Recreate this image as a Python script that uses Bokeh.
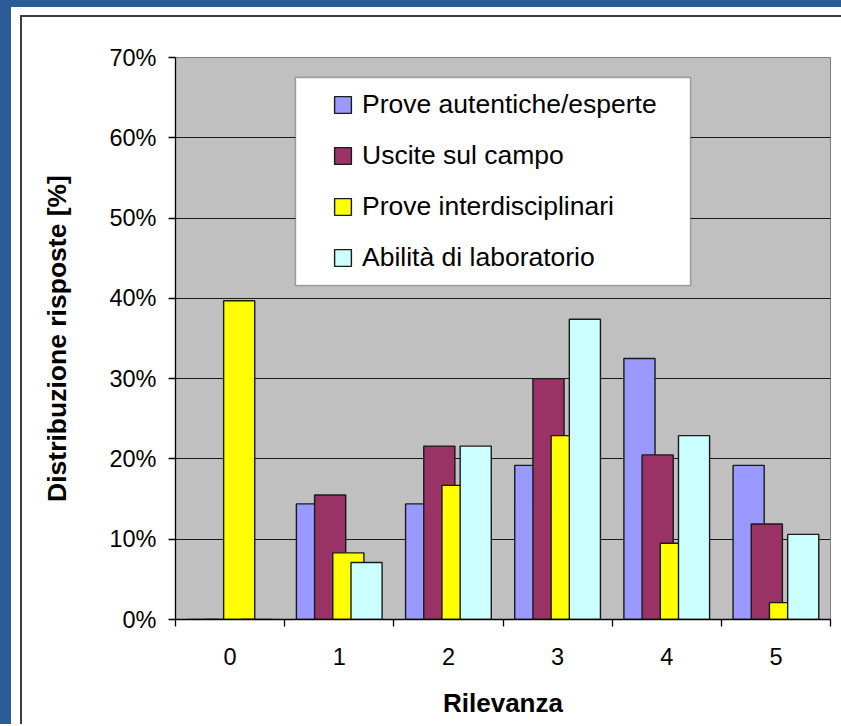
from bokeh.plotting import figure
from bokeh.models import (Range1d, FixedTicker, Legend, LegendItem, BoxAnnotation,
                          ColumnDataSource)
from bokeh.transform import dodge
from bokeh.layouts import column
from bokeh.embed import file_html
from bokeh.resources import INLINE

# ---------------- data ----------------
categories = ["0", "1", "2", "3", "4", "5"]
series_names = ["Prove autentiche/esperte", "Uscite sul campo",
                "Prove interdisciplinari", "Abilità di laboratorio"]
prove_autentiche = [0.0, 14.4, 14.4, 19.2, 32.5, 19.2]
uscite_campo = [0.0, 15.5, 21.6, 30.0, 20.5, 11.9]
prove_interdisciplinari = [39.7, 8.3, 16.7, 22.9, 9.5, 2.1]
abilita_laboratorio = [0.0, 7.1, 21.6, 37.4, 22.9, 10.6]
y_ticks = [0, 10, 20, 30, 40, 50, 60, 70]
y_tick_labels = ["0%", "10%", "20%", "30%", "40%", "50%", "60%", "70%"]
x_title = "Rilevanza"
y_title = "Distribuzione risposte [%]"

colors = ["#9999FF", "#993366", "#FFFF00", "#CCFFFF"]
offsets = [-0.25, -1 / 12, 1 / 12, 0.25]
FONT = "Liberation Sans"

xs = list(range(len(categories)))
src = ColumnDataSource(dict(x=xs, s0=prove_autentiche, s1=uscite_campo,
                            s2=prove_interdisciplinari, s3=abilita_laboratorio))

W, H = 819, 707
p = figure(width=W, height=H,
           x_range=Range1d(-0.5, len(categories) - 0.5),
           y_range=Range1d(y_ticks[0], y_ticks[-1]),
           output_backend="svg", toolbar_location=None,
           min_border_left=153, min_border_right=11,
           min_border_top=40, min_border_bottom=105)

p.background_fill_color = "#C0C0C0"
p.border_fill_color = "white"
p.outline_line_color = "#808080"
p.outline_line_width = 1

renderers = []
for i, key in enumerate(["s0", "s1", "s2", "s3"]):
    r = p.vbar(x=dodge("x", offsets[i], range=p.x_range), top=key, bottom=0,
               width=0.285, source=src, fill_color=colors[i],
               line_color="#1a1a1a", line_width=1.4)
    renderers.append(r)

# grid
p.xgrid.visible = False
p.ygrid.ticker = FixedTicker(ticks=y_ticks)
p.ygrid.grid_line_color = "#1a1a1a"
p.ygrid.grid_line_width = 1.2

# y axis
ya = p.yaxis[0]
ya.ticker = FixedTicker(ticks=y_ticks)
ya.major_label_overrides = {t: l for t, l in zip(y_ticks, y_tick_labels)}
ya.axis_line_color = "black"
ya.axis_line_width = 1.3
ya.major_tick_line_color = "black"
ya.major_tick_line_width = 1.3
ya.major_tick_out = 7
ya.major_tick_in = 0
ya.minor_tick_line_color = None
ya.major_label_standoff = 12
ya.major_label_text_font = FONT
ya.major_label_text_font_size = "23.5px"
ya.major_label_text_color = "black"
ya.axis_label = y_title
ya.axis_label_text_font = FONT
ya.axis_label_text_font_style = "bold"
ya.axis_label_text_font_size = "26.5px"
ya.axis_label_text_color = "black"
ya.axis_label_standoff = 34

# x axis
xa = p.xaxis[0]
xa.ticker = FixedTicker(ticks=xs, minor_ticks=[x - 0.5 for x in xs] + [xs[-1] + 0.5])
xa.major_label_overrides = {x: c for x, c in zip(xs, categories)}
xa.axis_line_color = "black"
xa.axis_line_width = 1.3
xa.major_tick_line_color = None
xa.major_tick_out = 0
xa.major_tick_in = 0
xa.minor_tick_line_color = "black"
xa.minor_tick_line_width = 1.3
xa.minor_tick_out = 7
xa.minor_tick_in = 0
xa.major_label_standoff = 21
xa.major_label_text_font = FONT
xa.major_label_text_font_size = "23.5px"
xa.major_label_text_color = "black"
xa.axis_label = x_title
xa.axis_label_text_font = FONT
xa.axis_label_text_font_style = "bold"
xa.axis_label_text_font_size = "26px"
xa.axis_label_text_color = "black"
xa.axis_label_standoff = 20

# legend box (white, black border) behind a transparent legend
box = BoxAnnotation(left=120, right=515, bottom=334, top=542,
                    left_units="screen", right_units="screen",
                    bottom_units="screen", top_units="screen",
                    fill_color="white", fill_alpha=1.0,
                    line_color="black", line_width=1.5)
p.add_layout(box)

legend = Legend(items=[LegendItem(label=n, renderers=[r])
                       for n, r in zip(series_names, renderers)],
                location=(143, 332), margin=0, padding=14,
                glyph_width=21, glyph_height=21, label_standoff=9,
                label_height=31, spacing=20,
                label_text_font=FONT, label_text_font_size="26.5px",
                label_text_color="black",
                background_fill_alpha=0, border_line_alpha=0)
p.add_layout(legend)

# slide background (blue strip), white chart area with a dark border line
inner = column(p, styles={"border-left": "2px solid #3c3c3c",
                          "border-top": "2px solid #3c3c3c",
                          "border-right": "none", "border-bottom": "none",
                          "outline": "none", "box-shadow": "none",
                          "background-color": "white"})
outer = column(inner, styles={"background-color": "white",
                              "border-left": "11px solid #2a5c98",
                              "border-top": "7px solid #2a5c98",
                              "border-right": "none", "border-bottom": "none",
                              "outline": "none", "box-shadow": "none",
                              "overflow": "hidden",
                              "padding-left": "9px", "padding-top": "8px"})

open("out.html", "w").write(file_html(outer, INLINE))
